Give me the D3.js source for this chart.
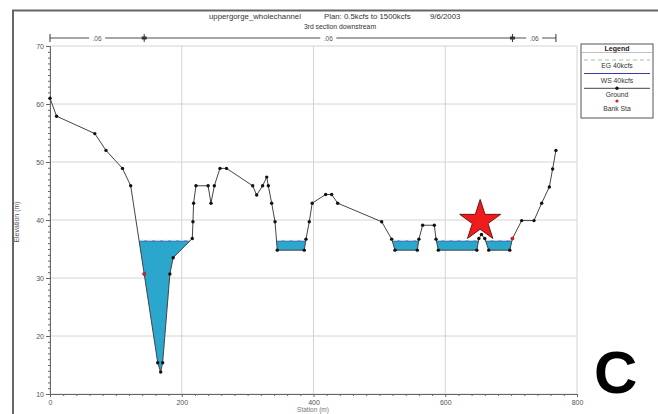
<!DOCTYPE html>
<html><head><meta charset="utf-8">
<script src="https://cdn.jsdelivr.net/npm/d3@7"></script>
<style>body{margin:0;background:#fff}svg{display:block;font-family:"Liberation Sans",Arial,sans-serif}</style>
</head><body><svg id="c" width="658" height="414"></svg>
<script>
// ---- data ----
const stations = [0,10,68,85,110,122.5,143,163.5,168,171,182,187,216,217,218,221.6,240,244.4,249.5,258,268,307.7,313.7,322.8,329,331.4,336.5,341.6,345,386,388.6,393.6,398,418.5,427.6,436.7,503.5,518.7,523.7,557.6,560,565.7,583.4,586,589.5,648,651,655,660,666,698,702,716,734.7,746.4,758,763,768];
const elevations = [61,57.9,54.9,52,48.9,45.9,30.7,15.4,13.8,15.4,30.7,33.5,36.8,39.7,42.9,45.9,45.9,42.9,45.9,48.9,48.9,45.9,44.3,45.9,47.4,45.9,42.9,39.7,34.8,34.8,36.7,39.7,42.9,44.4,44.4,42.9,39.7,36.7,34.8,34.8,36.7,39.1,39.1,36.7,34.8,34.8,36.8,37.5,36.8,34.8,34.8,36.8,39.9,39.9,42.9,45.7,48.8,52];
const wsElev = 36.4;
const egElev = 36.45;
const bankStations = [143, 702];
const nValues = [".06", ".06", ".06"];
const nBreaks = [0, 143, 702, 768];
const xTicks = [0,200,400,600,800];
const yTicks = [10,20,30,40,50,60,70];
const starPoint = [653, 40];
const titleParts = ["uppergorge_wholechannel", "Plan: 0.5kcfs to 1500kcfs", "9/6/2003"];
const subtitle = "3rd section downstream";
const legendItems = ["EG 40kcfs", "WS 40kcfs", "Ground", "Bank Sta"];

// ---- layout ----
const svg = d3.select("#c");
const x = d3.scaleLinear().domain([0,800]).range([50,577]);
const y = d3.scaleLinear().domain([10,70]).range([394,46]);
const ground = stations.map((s,i)=>[s, elevations[i]]);
function groundAt(s){
  for(let i=0;i<ground.length-1;i++){
    const [a,ea]=ground[i],[b,eb]=ground[i+1];
    if(s>=a && s<=b) return ea+(eb-ea)*(s-a)/(b-a);
  }
  return null;
}

// outer frame
svg.append("path").attr("d","M13,414 L13,10.5 L658,10.5").attr("fill","none").attr("stroke","#666").attr("stroke-width",2);

// title
const tx=[209,324,430];
titleParts.forEach((t,i)=>svg.append("text").attr("x",tx[i]).attr("y",18.5).attr("font-size",7.8).attr("fill","#333").text(t));
svg.append("text").attr("x",340).attr("y",28.5).attr("text-anchor","middle").attr("font-size",6.8).attr("fill","#333").text(subtitle);

// grid
const g = svg.append("g");
xTicks.forEach(t=>g.append("line").attr("x1",x(t)).attr("x2",x(t)).attr("y1",y(10)).attr("y2",y(70)).attr("stroke","#d4d4d4").attr("stroke-width",1));
yTicks.forEach(t=>g.append("line").attr("x1",x(0)).attr("x2",x(800)).attr("y1",y(t)).attr("y2",y(t)).attr("stroke","#d4d4d4").attr("stroke-width",1));

// axes
const yAx = d3.axisLeft(y).tickValues(yTicks).tickSize(4).tickPadding(2).tickFormat(d3.format("d"));
svg.append("g").attr("transform",`translate(${x(0)},0)`).call(yAx);
const yMinor = d3.range(10,70.01,1).filter(v=>v%10!==0);
svg.append("g").attr("transform",`translate(${x(0)},0)`).call(d3.axisLeft(y).tickValues(yMinor).tickSize(2).tickFormat("")).select(".domain").remove();
const xAx = d3.axisBottom(x).tickValues(xTicks).tickSize(3).tickPadding(3).tickFormat(d3.format("d"));
svg.append("g").attr("transform",`translate(0,${y(10)})`).call(xAx);
const xMinor = d3.range(0,800.01,20).filter(v=>v%200!==0);
svg.append("g").attr("transform",`translate(0,${y(10)})`).call(d3.axisBottom(x).tickValues(xMinor).tickSize(2).tickFormat("")).select(".domain").remove();
svg.selectAll(".tick text").attr("font-size",7).attr("fill","#555").attr("font-family","Liberation Sans, Arial");
svg.selectAll(".tick line").attr("stroke","#666");
svg.selectAll(".domain").attr("stroke","#666");
svg.append("text").attr("transform","translate(19,222) rotate(-90)").attr("text-anchor","middle").attr("font-size",7).attr("fill","#555").text("Elevation (m)");
svg.append("text").attr("x",313).attr("y",411.5).attr("text-anchor","middle").attr("font-size",6.5).attr("fill","#777").text("Station (m)");

// top n-value bar
const by = 38;
const bar = svg.append("g");
bar.append("line").attr("x1",x(nBreaks[0])).attr("x2",x(nBreaks[3])).attr("y1",by).attr("y2",by).attr("stroke","#888").attr("stroke-width",1.6);
nBreaks.forEach((b,i)=>{
  bar.append("line").attr("x1",x(b)).attr("x2",x(b)).attr("y1",by-4).attr("y2",by+4).attr("stroke","#333").attr("stroke-width",1);
  if(i>0 && i<nBreaks.length-1){
    bar.append("rect").attr("x",x(b)-2.5).attr("y",by-1.5).attr("width",5).attr("height",3).attr("fill","#333");
  }
});
nValues.forEach((n,i)=>{
  const m = x((nBreaks[i]+nBreaks[i+1])/2);
  bar.append("rect").attr("x",m-8).attr("y",by-4).attr("width",16).attr("height",8).attr("fill","#fff");
  bar.append("text").attr("x",m).attr("y",by+2.5).attr("text-anchor","middle").attr("font-size",6.5).attr("fill","#555").text(n);
});

// water fill
const wet = [];
let cur = null;
for(let i=0;i<ground.length;i++){
  const [s,e]=ground[i];
  if(i>0){
    const [ps,pe]=ground[i-1];
    if((pe-wsElev)*(e-wsElev)<0){
      const cs = ps+(s-ps)*(wsElev-pe)/(e-pe);
      if(cur){cur.push([cs,wsElev]); wet.push(cur); cur=null;}
      else {cur=[[cs,wsElev]];}
    }
  }
  if(e<wsElev){ if(!cur) cur=[[s,wsElev]]; cur.push([s,e]); }
}
if(cur){cur.push([cur[cur.length-1][0],wsElev]); wet.push(cur);}
const line = d3.line().x(d=>x(d[0])).y(d=>y(d[1]));
wet.forEach(p=>{
  svg.append("path").attr("d",line(p)+"Z").attr("fill","#2ba6cc").attr("stroke","none");
  const s0=p[0][0], s1=p[p.length-1][0];
  svg.append("line").attr("x1",x(s0)).attr("x2",x(s1)).attr("y1",y(wsElev)).attr("y2",y(wsElev)).attr("stroke","#3a3aa8").attr("stroke-width",0.8);
  svg.append("line").attr("x1",x(s0)).attr("x2",x(s1)).attr("y1",y(egElev)-0.3).attr("y2",y(egElev)-0.3).attr("stroke","#cfe6cf").attr("stroke-width",1).attr("stroke-dasharray","5,3");
});

// ground
svg.append("path").attr("d",line(ground)).attr("fill","none").attr("stroke","#444").attr("stroke-width",1);
svg.append("g").selectAll("circle").data(ground).join("circle").attr("cx",d=>x(d[0])).attr("cy",d=>y(d[1])).attr("r",1.7).attr("fill","#111");
// bank stations
svg.append("g").selectAll("circle").data(bankStations).join("circle").attr("cx",d=>x(d)).attr("cy",d=>y(groundAt(d))).attr("r",1.8).attr("fill","#e02020");

// star
const star = d3.symbol().type(d3.symbolStar).size(520);
svg.append("path").attr("d",star()).attr("transform",`translate(${x(starPoint[0])},${y(starPoint[1])+1})`).attr("fill","#ee1c1c").attr("stroke","#7a1010").attr("stroke-width",1);

// legend
const L = svg.append("g");
L.append("rect").attr("x",581).attr("y",44).attr("width",72).attr("height",74).attr("fill","#fff").attr("stroke","#555").attr("stroke-width",1);
L.append("text").attr("x",617).attr("y",50.5).attr("text-anchor","middle").attr("font-size",7).attr("font-weight","bold").attr("fill","#222").text("Legend");
L.append("line").attr("x1",581).attr("x2",653).attr("y1",52.5).attr("y2",52.5).attr("stroke","#999").attr("stroke-width",0.6);
L.append("line").attr("x1",584).attr("x2",650).attr("y1",60).attr("y2",60).attr("stroke","#9cc49c").attr("stroke-dasharray","4,3").attr("stroke-width",1);
L.append("line").attr("x1",584).attr("x2",650).attr("y1",73.5).attr("y2",73.5).attr("stroke","#3a3aa8").attr("stroke-width",1);
L.append("line").attr("x1",584).attr("x2",650).attr("y1",88.3).attr("y2",88.3).attr("stroke","#444").attr("stroke-width",1);
L.append("circle").attr("cx",617).attr("cy",88.3).attr("r",1.7).attr("fill","#111");
L.append("circle").attr("cx",617).attr("cy",101).attr("r",1.6).attr("fill","#e02020");
const ly=[68,83,97,111];
legendItems.forEach((t,i)=>L.append("text").attr("x",617).attr("y",ly[i]).attr("text-anchor","middle").attr("font-size",6.8).attr("fill","#333").text(t));

// panel letter
svg.append("text").attr("x",594).attr("y",393).attr("font-size",60).attr("font-weight","bold").attr("fill","#000").text("C");
</script></body></html>
